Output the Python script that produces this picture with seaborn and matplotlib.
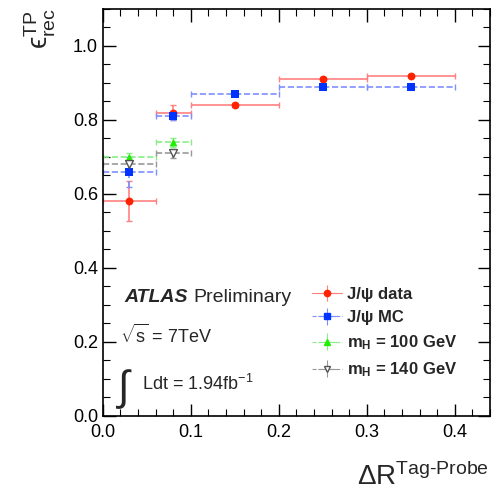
import numpy as np
import pandas as pd
import matplotlib
matplotlib.use("Agg")
import matplotlib.pyplot as plt
import seaborn as sns
from matplotlib.ticker import MultipleLocator

# ---- data ----
bin_lo = [0.0, 0.06, 0.1, 0.2, 0.3]
bin_hi = [0.06, 0.1, 0.2, 0.3, 0.4]
bin_center = [0.03, 0.08, 0.15, 0.25, 0.35]

jpsi_data = [0.58, 0.82, 0.84, 0.91, 0.92]
jpsi_data_err = [0.054, 0.02, 0.005, 0.005, 0.005]

jpsi_mc = [0.66, 0.81, 0.87, 0.89, 0.89]
jpsi_mc_err = [0.04, 0.01, 0.004, 0.003, 0.003]

mh100 = [0.70, 0.74]
mh100_err = [0.012, 0.012]

mh140 = [0.68, 0.71]
mh140_err = [0.012, 0.012]

series_names = ["J/\u03c8 data", "J/\u03c8 MC", "m$_\\mathregular{H}$ = 100 GeV", "m$_\\mathregular{H}$ = 140 GeV"]

sns.set_theme(style="ticks")
plt.rcParams['font.family'] = ['Liberation Sans', 'DejaVu Sans']
plt.rcParams['mathtext.fontset'] = 'custom'
plt.rcParams['mathtext.rm'] = 'Liberation Sans'
plt.rcParams['mathtext.it'] = 'Liberation Sans:italic'
plt.rcParams['mathtext.bf'] = 'Liberation Sans:bold'

fig = plt.figure(figsize=(4.99, 4.97), dpi=100)
ax = fig.add_axes([0.206, 0.163, 0.776, 0.819])

def make_df(vals, errs):
    n = len(vals)
    x = np.array(bin_center[:n])
    lo = x - np.array(bin_lo[:n])
    hi = np.array(bin_hi[:n]) - x
    return pd.DataFrame({"x": x, "y": vals, "yerr": errs, "xlo": lo, "xhi": hi})

specs = [
    (make_df(jpsi_data, jpsi_data_err), "#ff2200", "#ff8080", "o", "-", True, series_names[0]),
    (make_df(jpsi_mc, jpsi_mc_err), "#0033ff", "#7f8fff", "s", "--", True, series_names[1]),
    (make_df(mh100, mh100_err), "#22ee00", "#88ee88", "^", "--", True, series_names[2]),
    (make_df(mh140, mh140_err), "#555555", "#999999", "v", "--", False, series_names[3]),
]

handles = []
for df, mcol, lcol, marker, ls, filled, name in specs:
    eb = ax.errorbar(df["x"], df["y"], xerr=[df["xlo"], df["xhi"]], yerr=df["yerr"],
                     fmt="none", ecolor=lcol, elinewidth=1.2, capsize=2.5, capthick=1.0)
    for lc in eb[2]:
        lc.set_linestyle(ls)
    sns.scatterplot(data=df, x="x", y="y", ax=ax, marker=marker, s=32,
                    color=mcol if filled else "white",
                    edgecolor=mcol, linewidth=1.0 if not filled else 0,
                    legend=False, zorder=5)
    h = ax.errorbar([], [], xerr=[], yerr=[], fmt=marker, color=lcol, ls=ls,
                    markerfacecolor=mcol if filled else "white", markeredgecolor=mcol,
                    markersize=4.5, elinewidth=0.8, lw=0.8)
    handles.append(h)

ax.set_xlim(0.0, 0.44)
ax.set_ylim(0.0, 1.1)
ax.xaxis.set_major_locator(MultipleLocator(0.1))
ax.xaxis.set_minor_locator(MultipleLocator(0.02))
ax.yaxis.set_major_locator(MultipleLocator(0.2))
ax.yaxis.set_minor_locator(MultipleLocator(0.05))
ax.tick_params(which="both", direction="in", top=True, right=True, labelsize=13, colors="black")
ax.tick_params(which="major", length=9, width=1.0)
ax.tick_params(which="minor", length=5, width=0.8)
ax.tick_params(axis="x", pad=6)
for s in ax.spines.values():
    s.set_linewidth(1.2)
    s.set_color("black")

ax.set_xlabel("")
ax.set_ylabel("")
fig.text(0.98, 0.012, "\u0394R$^\\mathregular{Tag\\text{-}Probe}$", ha="right", va="bottom", fontsize=20)
fig.text(0.045, 0.985, "\u03f5$^\\mathregular{TP}_\\mathregular{rec}$", rotation=90, ha="left", va="top",
         fontsize=20, family=['Liberation Sans', 'DejaVu Sans'])

ax.text(0.057, 0.28, "ATLAS", transform=ax.transAxes, fontsize=14, fontweight="bold", style="italic")
ax.text(0.235, 0.28, "Preliminary", transform=ax.transAxes, fontsize=14)
ax.text(0.044, 0.18, "$\\sqrt{\\mathregular{s}}$ = 7TeV", transform=ax.transAxes, fontsize=13)
ax.text(0.035, 0.04, "$\\int$", transform=ax.transAxes, fontsize=30)
ax.text(0.10, 0.064, "Ldt = 1.94fb$^\\mathregular{-1}$", transform=ax.transAxes, fontsize=13)

leg = ax.legend(handles, series_names, loc="upper left", bbox_to_anchor=(0.502, 0.354),
                frameon=False, handlelength=1.8, handletextpad=0.3, labelspacing=0.5,
                prop={"weight": "bold", "size": 12})

fig.savefig("out.png", dpi=100)
